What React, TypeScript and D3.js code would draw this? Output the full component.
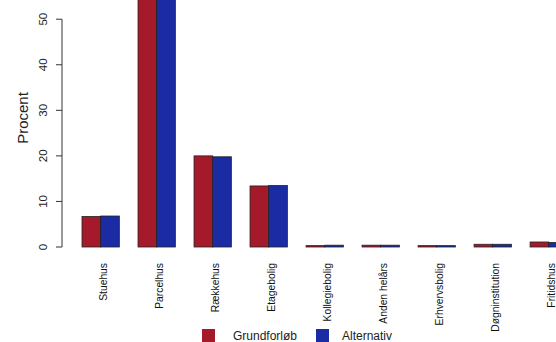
import React from "react";
import * as d3 from "d3";

const categories = ["Stuehus", "Parcelhus", "Rækkehus", "Etagebolig", "Kollegiebolig", "Anden helårs", "Erhvervsbolig", "Døgninstitution", "Fritidshus"];
const grundforloeb = [6.7, 58.0, 20.0, 13.4, 0.3, 0.4, 0.3, 0.6, 1.1];
const alternativ = [6.8, 58.0, 19.8, 13.5, 0.4, 0.4, 0.3, 0.6, 1.0];
const yTicks = [0, 10, 20, 30, 40, 50];
const seriesNames = ["Grundforløb", "Alternativ"];
const colors = ["#A41A2B", "#1A2BA3"];

export default function App() {
  const W = 556, H = 342;
  const y = d3.scaleLinear().domain([0, 50]).range([247, 19.2]);
  // bar units: each group = 2 bars + 1 space
  const unit = 18.67;
  const x = d3.scaleLinear().domain([0, 1]).range([82 - unit, 82]);
  const fontFam = "Liberation Sans, Arial, sans-serif";
  return (
    <svg width={W} height={H} style={{ position: "absolute", left: 0, top: 0 }} fontFamily={fontFam}>
      <rect width={W} height={H} fill="white" />
      {categories.map((c, i) => {
        const g0 = 1 + i * 3;
        const vals = [grundforloeb[i], alternativ[i]];
        return (
          <g key={c}>
            {vals.map((v, j) => {
              const x0 = x(g0 + j);
              const x1 = x(g0 + j + 1);
              return (
                <rect key={j} x={x0} y={y(v)} width={x1 - x0} height={y(0) - y(v)} fill={colors[j]} stroke="#222" strokeWidth={0.8} />
              );
            })}
            <text transform={`translate(${x(g0 + 1) + 6},263) rotate(-90)`} textAnchor="end" fontSize={10.3} fill="#111">{c}</text>
          </g>
        );
      })}
      <line x1={62} x2={62} y1={y(0)} y2={y(50)} stroke="#333" />
      {yTicks.map((t) => (
        <g key={t}>
          <line x1={56} x2={62} y1={y(t)} y2={y(t)} stroke="#333" />
          <text transform={`translate(47,${y(t)}) rotate(-90)`} textAnchor="middle" fontSize={11.5} fill="#222">{t}</text>
        </g>
      ))}
      <text transform={`translate(28,118) rotate(-90)`} textAnchor="middle" fontSize={15} fill="#222">Procent</text>
      <rect x={202} y={329} width={13} height={13} fill={colors[0]} />
      <text x={233} y={340} fontSize={12} fill="#222">{seriesNames[0]}</text>
      <rect x={316} y={329} width={13} height={13} fill={colors[1]} />
      <text x={342} y={340} fontSize={12} fill="#222">{seriesNames[1]}</text>
    </svg>
  );
}
